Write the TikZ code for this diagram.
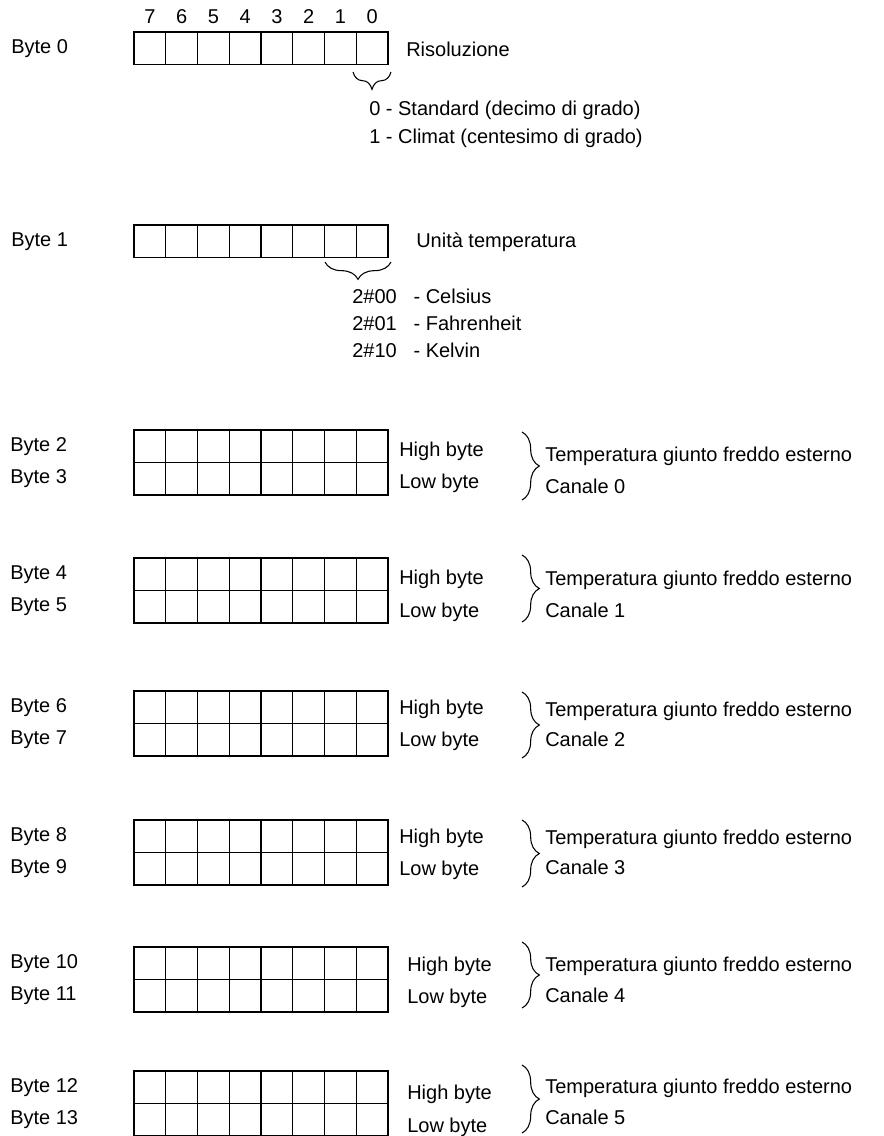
\documentclass[tikz,border=0pt]{standalone}
\usepackage{fontspec}
\setmainfont{Liberation Sans}
\usetikzlibrary{positioning, decorations.pathreplacing}

\tikzset{
  bitcell/.style={draw, line width=1.1pt, minimum width=23.81pt, minimum height=24.37pt, inner sep=0pt, outer sep=0pt},
  txt/.style={anchor=base west, inner sep=0pt, font=\fontsize{15}{18}\selectfont},
  bitnum/.style={anchor=base, inner sep=0pt, font=\fontsize{15}{18}\selectfont},
  underbrace/.style={decorate, decoration={brace, mirror, amplitude=13pt}, line width=0.8pt},
  sidebrace/.style={decorate, decoration={brace, amplitude=13pt}, line width=0.8pt}
}

\begin{document}
\begin{tikzpicture}[x=0.75pt, y=-0.75pt]
  \useasboundingbox (0,0) rectangle (884,1136);

  % bit numbers
  \foreach \b in {0,...,7}
    \node[bitnum] (bit\b) at ({134+31.75*(7.5-\b)}, 23) {\b};

  % byte 0 and byte 1
  \foreach \r/\ytop in {0/32, 1/225} {
    \foreach \i in {0,...,7}
      \node[bitcell] (r\r-\i) at ({134+31.75*(\i+0.5)}, \ytop+16.25) {};
    \node[txt] (lbl\r) at (11, \ytop+21) {Byte \r};
  }

  \node[txt] (reso) at (406, 56) {Risoluzione};
  \coordinate (brA1) at (353, 72);
  \coordinate (brA2) at (391, 72);
  \draw[underbrace] (brA1) -- (brA2);
  \node[txt] (std) at (369, 115) {0 - Standard (decimo di grado)};
  \node[txt] (clim) at (369, 143) {1 - Climat (centesimo di grado)};

  \node[txt] (unit) at (416, 247) {Unità temperatura};
  \coordinate (brB1) at (325, 262);
  \coordinate (brB2) at (391, 262);
  \draw[underbrace] (brB1) -- (brB2);
  \node[txt] (cel) at (352, 303) {\makebox[46pt][l]{2\#00}- Celsius};
  \node[txt] (fah) at (352, 330) {\makebox[46pt][l]{2\#01}- Fahrenheit};
  \node[txt] (kel) at (352, 357) {\makebox[46pt][l]{2\#10}- Kelvin};

  % cold junction temperature, channels 0 to 5
  \foreach \hi/\lo/\ytop/\hx/\hb/\lb/\bt/\bb/\tb/\cb/\ch in {
      2/3/430/399/456/488/432/500/461/493/0,
      4/5/558/399/584/617/555/622/585/617/1,
      6/7/691/399/714/746/692/758/716/746/2,
      8/9/820/399/843/875/820/887/844/874/3,
      10/11/947/407/971/1003/942/1008/971/1002/4,
      12/13/1071/407/1099/1132/1065/1133/1093/1124/5} {
    \foreach \i in {0,...,7} {
      \node[bitcell] (r\hi-\i) at ({134+31.75*(\i+0.5)}, \ytop+16.25) {};
      \node[bitcell] (r\lo-\i) at ({134+31.75*(\i+0.5)}, \ytop+48.75) {};
    }
    \node[txt] (lbl\hi) at (10, \ytop+21) {Byte \hi};
    \node[txt] (lbl\lo) at (10, \ytop+53.5) {Byte \lo};
    \node[txt] (high\hi) at (\hx, \hb) {High byte};
    \node[txt] (low\lo) at (\hx, \lb) {Low byte};
    \coordinate (bt\ch) at (522, \bt);
    \coordinate (bb\ch) at (522, \bb);
    \draw[sidebrace] (bt\ch) -- (bb\ch);
    \node[txt] (temp\ch) at (545, \tb) {Temperatura giunto freddo esterno};
    \node[txt] (can\ch) at (545, \cb) {Canale \ch};
  }
\end{tikzpicture}
\end{document}
